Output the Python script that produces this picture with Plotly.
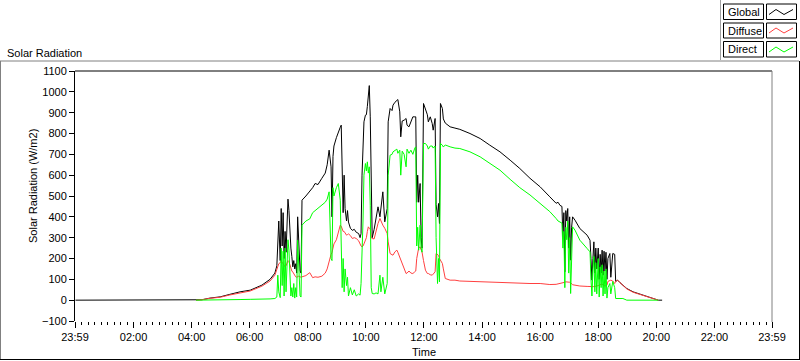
import plotly.graph_objects as go

# ---------------- data (minutes since 00:00) ----------------
minutes = [0, 249, 261, 278, 299, 319, 340, 361, 385, 402, 412, 416, 418, 420, 423, 425, 427, 429, 431,
           433, 435, 437, 439, 441, 443, 445, 447, 449, 451, 453, 455, 457, 459, 461, 464, 466, 468,
           476, 484, 490, 495, 501, 509, 516, 520, 524, 528, 530, 532, 534, 539, 543, 547, 549, 551,
           553, 555, 557, 560, 562, 564, 568, 572, 576, 580, 585, 588, 590, 592, 594, 596, 599, 601,
           603, 605, 607, 609, 611, 613, 617, 621, 625, 629, 631, 635, 639, 644, 646, 650, 654, 656,
           660, 664, 666, 670, 672, 675, 679, 683, 685, 689, 693, 697, 701, 703, 705, 707, 709, 712,
           714, 716, 719, 723, 727, 729, 733, 737, 739, 743, 745, 748, 750, 752, 754, 758, 760, 764,
           774, 784, 794, 815, 836, 856, 877, 898, 918, 939, 960, 980, 993, 997, 1001, 1005, 1007,
           1009, 1011, 1013, 1015, 1017, 1019, 1021, 1023, 1025, 1027, 1032, 1042, 1057, 1063, 1065,
           1067, 1069, 1071, 1073, 1075, 1077, 1080, 1082, 1084, 1086, 1088, 1090, 1092, 1094, 1096,
           1098, 1100, 1104, 1106, 1110, 1114, 1116, 1120, 1125, 1131, 1139, 1152, 1166, 1180, 1192,
           1204, 1212, 1439]

global_w = [0, 0, 2, 10, 16, 28, 40, 48, 72, 100, 130, 165, 310, 380, 190, 440, 260, 420, 200,
            330, 230, 380, 485, 430, 300, 250, 210, 160, 190, 150, 175, 130, 400, 250, 140, 130, 480,
            500, 520, 540, 560, 555, 585, 610, 650, 720, 640, 400, 690, 740, 780, 810, 830, 840, 600,
            420, 600, 440, 380, 430, 375, 345, 335, 340, 326, 320, 300, 320, 600, 760, 856, 888, 890,
            930, 984, 1030, 880, 420, 300, 340, 392, 448, 400, 440, 520, 376, 440, 856, 920, 910, 936,
            950, 960, 963, 904, 784, 860, 864, 872, 840, 832, 855, 880, 880, 880, 470, 600, 470, 560,
            300, 250, 944, 912, 890, 856, 880, 848, 816, 872, 460, 400, 464, 368, 944, 920, 870, 850,
            832, 826, 820, 800, 776, 744, 712, 672, 632, 585, 544, 496, 465, 470, 455, 450, 300,
            420, 136, 430, 380, 440, 250, 400, 192, 350, 400, 384, 344, 312, 288, 200,
            96, 200, 280, 130, 250, 150, 250, 100, 220, 130, 240, 120, 235, 140, 230,
            100, 200, 224, 110, 224, 220, 90, 96, 84, 72, 56, 40, 30, 18,
            8, 0, 0]

diffuse_w = [None, 0, 2, 9, 14, 25, 36, 44, 67, 92, 120, 145, 165, 175, 180, 188, 182, 172, 165,
             160, 165, 175, 190, 185, 170, 150, 140, 135, 125, 115, 112, 110, 112, 115, 112, 110, 112,
             118, 132, 108, 112, 110, 115, 130, 150, 190, 220, 230, 250, 270, 290, 320, 360, 355, 345,
             330, 330, 320, 312, 315, 318, 310, 296, 300, 296, 285, 264, 260, 256, 260, 270, 290, 300,
             330, 352, 345, 340, 300, 296, 294, 340, 368, 392, 380, 360, 345, 320, 280, 224, 218, 216,
             232, 240, 230, 208, 190, 175, 150, 128, 130, 140, 130, 128, 136, 140, 200, 240, 250, 256,
             245, 230, 190, 144, 128, 128, 122, 120, 125, 136, 224, 220, 215, 200, 192, 176, 150, 104,
             96, 96, 92, 90, 88, 86, 86, 84, 82, 80, 80, 75, 76, 78, 78, 80, 82,
             84, 86, 88, 88, 88, 88, 86, 84, 80, 74, 72, 68, 66, 64, 64,
             64, 65, 65, 66, 66, 68, 70, 72, 74, 76, 78, 72, 70, 68, 70,
             72, 90, 96, 96, 92, 80, 90, 96, 84, 70, 54, 38, 28, 16,
             6, 0, None]

direct_w = [None, 0, 0, 2, 2, 3, 3, 4, 4, 6, 8, 15, 120, 40, 12, 250, 70, 235, 20,
            250, 40, 150, 290, 240, 100, 20, 60, 15, 80, 10, 60, 15, 288, 140, 20, 15, 360,
            380, 390, 420, 430, 440, 455, 470, 485, 520, 200, 190, 540, 500, 540, 560, 480, 250, 60,
            200, 40, 150, 70, 110, 20, 60, 25, 50, 20, 30, 24, 80, 216, 380, 600, 656, 620,
            664, 610, 640, 456, 60, 32, 30, 35, 30, 120, 40, 110, 30, 80, 600, 696, 700, 712,
            720, 725, 705, 720, 600, 715, 700, 640, 725, 705, 720, 700, 730, 736, 260, 350, 240, 360,
            250, 230, 752, 752, 740, 725, 740, 740, 730, 740, 300, 80, 200, 88, 752, 744, 735, 745,
            736, 730, 728, 712, 688, 656, 624, 580, 540, 505, 465, 425, 392, 380, 375, 370, 250,
            330, 60, 350, 290, 380, 130, 300, 32, 200, 352, 336, 288, 248, 232, 100,
            20, 150, 210, 40, 180, 30, 200, 15, 160, 60, 170, 20, 140, 30, 150,
            10, 60, 80, 30, 90, 60, 8, 8, 8, 8, 0, 0, 0, 0,
            0, 0, None]

series_names = ["Global", "Diffuse", "Direct"]
series_colors = ["#000000", "#FF4040", "#00FF00"]

y_tick_vals = list(range(-100, 1101, 100))
x_tick_vals = [-1, 120, 240, 360, 480, 600, 720, 840, 960, 1080, 1200, 1320, 1439]
x_tick_text = ["23:59", "02:00", "04:00", "06:00", "08:00", "10:00", "12:00",
               "14:00", "16:00", "18:00", "20:00", "22:00", "23:59"]

# ---------------- layout geometry (pixels) ----------------
W, H = 800, 361
PL, PR, PT, PB = 75, 772, 71, 321
FONT = "Liberation Sans, Arial, sans-serif"


def fx(x):
    return (x - PL) / (PR - PL)


def fy(y):
    return (PB - y) / (PB - PT)


fig = go.Figure()
for name, vals, col in zip(series_names, [global_w, diffuse_w, direct_w], series_colors):
    fig.add_trace(go.Scatter(x=minutes, y=vals, mode="lines", name=name,
                             line=dict(color=col, width=1), connectgaps=False,
                             showlegend=False, hoverinfo="x+y+name"))

shapes = []


def line(x0, y0, x1, y1, color, width=1):
    shapes.append(dict(type="line", xref="paper", yref="paper",
                       x0=fx(x0), y0=fy(y0), x1=fx(x1), y1=fy(y1),
                       line=dict(color=color, width=width), layer="above"))


# outer panel frame
line(0, 61, 799, 61, "#808080")
line(0.5, 61, 0.5, 360, "#808080")
line(0, 359.5, 799.5, 359.5, "#000000")
line(799.5, 61, 799.5, 360, "#000000")
# plot area frame
line(PL, PT, PR, PT, "#000000")
line(PR, PT, PR, PB + 1, "#808080")
# legend panel edge
line(720.5, 0, 720.5, 60, "#A0A0A0")

annotations = []
rows = [(4, 19.5), (23, 38), (41.5, 57)]
for (y0, y1), name, col in zip(rows, series_names, series_colors):
    shapes.append(dict(type="rect", xref="paper", yref="paper",
                       x0=fx(723.5), x1=fx(763.5), y0=fy(y0), y1=fy(y1),
                       line=dict(color="#000000", width=1), fillcolor="white"))
    shapes.append(dict(type="rect", xref="paper", yref="paper",
                       x0=fx(766.5), x1=fx(796.5), y0=fy(y0), y1=fy(y1),
                       line=dict(color="#000000", width=1), fillcolor="white"))
    pts = [(769, y1 - 5), (776, y1 - 10), (784, y1 - 5), (793, y1 - 10)]
    path = "M " + " L ".join(f"{fx(px):.5f},{fy(py):.5f}" for px, py in pts)
    shapes.append(dict(type="path", xref="paper", yref="paper", path=path,
                       line=dict(color=col, width=1)))
    annotations.append(dict(text=name, xref="paper", yref="paper",
                            x=fx(725.5), y=fy((y0 + y1) / 2), xanchor="left", yanchor="middle",
                            showarrow=False, font=dict(family=FONT, size=11, color="black")))

annotations += [
    dict(text="Solar Radiation", xref="paper", yref="paper", x=fx(5), y=fy(53),
         xanchor="left", yanchor="middle", showarrow=False,
         font=dict(family=FONT, size=11, color="black")),
    dict(text="Solar Radiation (W/m2)", xref="paper", yref="paper", x=fx(33), y=fy(186),
         xanchor="center", yanchor="middle", textangle=-90, showarrow=False,
         font=dict(family=FONT, size=11, color="black")),
    dict(text="Time", xref="paper", yref="paper", x=fx(423.5), y=fy(352),
         xanchor="center", yanchor="middle", showarrow=False,
         font=dict(family=FONT, size=11, color="black")),
]

fig.update_layout(
    width=W, height=H,
    margin=dict(l=PL, r=W - PR, t=PT, b=H - PB, pad=0),
    paper_bgcolor="white", plot_bgcolor="white",
    font=dict(family=FONT, size=11, color="black"),
    showlegend=False,
    shapes=shapes, annotations=annotations,
    xaxis=dict(range=[-1, 1439], tickmode="array", tickvals=x_tick_vals, ticktext=x_tick_text,
               ticks="outside", ticklen=6, tickcolor="black", tickwidth=1,
               showline=False, showgrid=False, zeroline=False,
               minor=dict(tickmode="linear", tick0=0, dtick=120 / 9, ticks="outside",
                          ticklen=3, tickcolor="black", showgrid=False),
               tickfont=dict(family=FONT, size=11, color="black"), fixedrange=True),
    yaxis=dict(range=[-100, 1100], tickmode="array", tickvals=y_tick_vals,
               ticks="outside", ticklen=5, tickcolor="black", tickwidth=1,
               showline=True, linecolor="black", linewidth=1,
               showgrid=False, zeroline=False,
               tickfont=dict(family=FONT, size=11, color="black"), fixedrange=True),
)

fig.write_html("out.html", config={"displayModeBar": False},
               post_script="document.body.style.margin='0px';document.body.style.padding='0px';")
